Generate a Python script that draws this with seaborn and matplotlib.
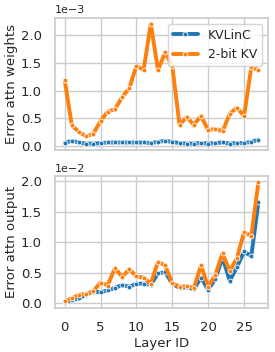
import numpy as np
import pandas as pd
import matplotlib
matplotlib.use("Agg")
import matplotlib.pyplot as plt
import seaborn as sns

# layer ids and the two error series (values in 1e-3 and 1e-2)
layers = list(range(28))
methods = ['KVLinC', '2-bit KV']

weights_kvlinc = [0.05, 0.09, 0.06, 0.04, 0.04, 0.05, 0.06, 0.06, 0.06, 0.06,
                  0.06, 0.06, 0.05, 0.07, 0.09, 0.07, 0.05, 0.04, 0.04, 0.05,
                  0.04, 0.05, 0.06, 0.04, 0.05, 0.05, 0.07, 0.11]
weights_2bit = [1.19, 0.37, 0.25, 0.17, 0.22, 0.45, 0.62, 0.66, 0.88, 1.04,
                1.45, 1.37, 2.21, 1.37, 1.69, 1.44, 0.38, 0.52, 0.38, 0.54,
                0.28, 0.31, 0.26, 0.58, 0.69, 0.54, 1.42, 1.37]

output_kvlinc = [0.02, 0.05, 0.08, 0.14, 0.19, 0.18, 0.21, 0.25, 0.30, 0.27,
                 0.32, 0.32, 0.30, 0.49, 0.51, 0.32, 0.25, 0.26, 0.23, 0.42,
                 0.22, 0.40, 0.75, 0.37, 0.59, 0.85, 0.77, 1.66]
output_2bit = [0.03, 0.08, 0.14, 0.15, 0.20, 0.34, 0.29, 0.58, 0.43, 0.56,
               0.44, 0.42, 0.32, 0.68, 0.62, 0.33, 0.27, 0.28, 0.25, 0.62,
               0.27, 0.47, 0.82, 0.53, 0.74, 1.17, 1.10, 1.99]

def long_form(a, b, scale):
    df = pd.DataFrame({
        'layer': layers + layers,
        'value': np.array(a + b) * scale,
        'method': [methods[0]] * len(a) + [methods[1]] * len(b),
    })
    return df

weights_df = long_form(weights_kvlinc, weights_2bit, 1e-3)
output_df = long_form(output_kvlinc, output_2bit, 1e-2)

sns.set_theme(style="whitegrid")
plt.rcParams['font.family'] = ['DejaVu Sans']
plt.rcParams['xtick.labelsize'] = 9.5
plt.rcParams['ytick.labelsize'] = 9.5
plt.rcParams['axes.labelsize'] = 9.5
plt.rcParams['font.size'] = 8
palette = ['#1f77b4', '#ff7f0e']

fig, ax = plt.subplots(2, 1, figsize=(2.75, 3.52), dpi=100, sharex=True)

for a, df in zip(ax, [weights_df, output_df]):
    sns.lineplot(data=df, x='layer', y='value', hue='method', palette=palette,
                 marker='o', markersize=3.5, markeredgecolor='white',
                 markeredgewidth=0.6, linewidth=2.8, ax=a)
    a.ticklabel_format(axis='y', style='sci', scilimits=(0, 0))
    a.yaxis.get_offset_text().set_fontsize(8)
    a.set_xticks([0, 5, 10, 15, 20, 25])

ax[0].set_ylabel('Error attn weights', labelpad=2)
ax[0].set_xlabel('')
ax[0].set_yticks([0.0, 0.5e-3, 1.0e-3, 1.5e-3, 2.0e-3])
ax[0].legend(loc='upper right', fontsize=9)

ax[1].set_ylabel('Error attn output', labelpad=2)
ax[1].set_xlabel('Layer ID', labelpad=2)
ax[1].set_yticks([0.0, 0.5e-2, 1.0e-2, 1.5e-2, 2.0e-2])
ax[1].get_legend().remove()

fig.subplots_adjust(left=0.2, right=0.975, top=0.95, bottom=0.125, hspace=0.2)
plt.savefig("out.png")
